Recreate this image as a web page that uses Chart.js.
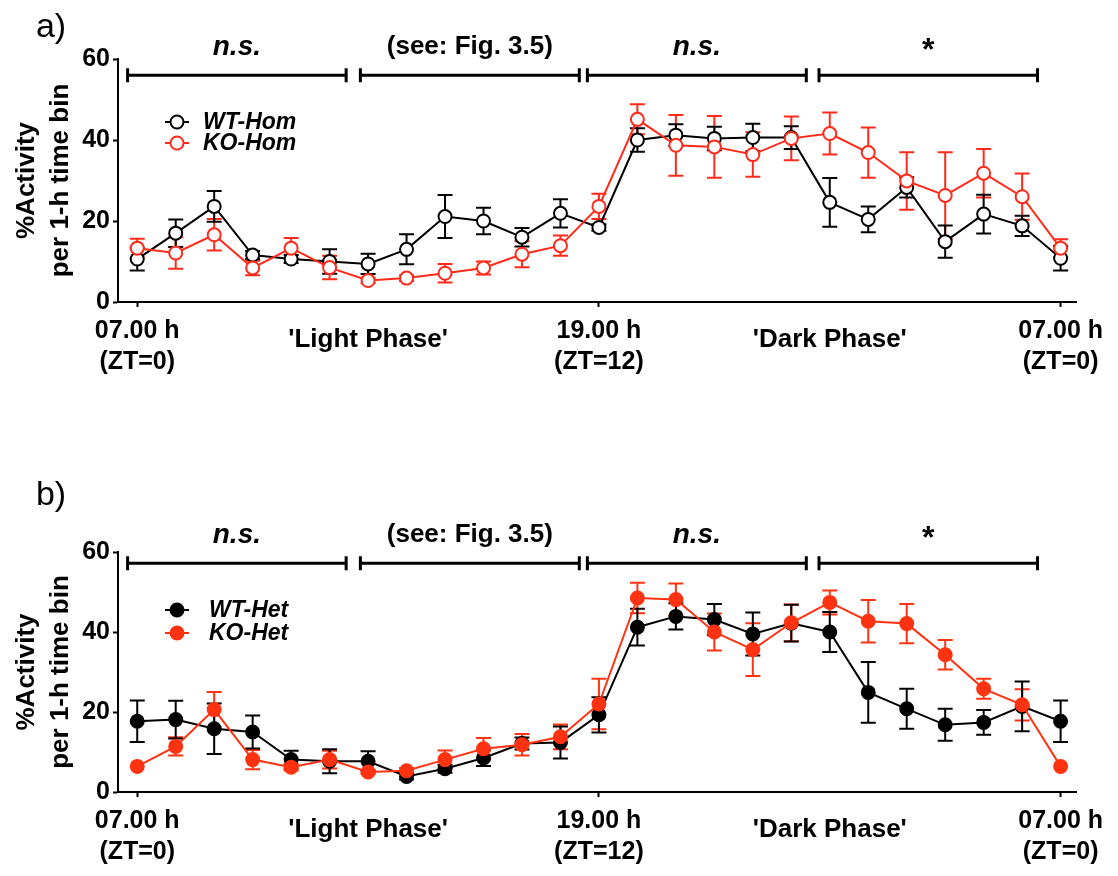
<!DOCTYPE html>
<html>
<head>
<meta charset="utf-8">
<script src="https://cdn.jsdelivr.net/npm/chart.js@4.4.1/dist/chart.umd.min.js"></script>
<style>
  body { margin: 0; background: #fff; }
  .panel { position: absolute; left: 0; width: 1118px; }
</style>
</head>
<body>
<div class="panel" style="top:0;height:420px"><canvas id="chartA" width="1118" height="420"></canvas></div>
<div class="panel" style="top:420px;height:456px"><canvas id="chartB" width="1118" height="456"></canvas></div>
<script>
// hours after lights on (ZT)
const hours = [0, 1, 2, 3, 4, 5, 6, 7, 8, 9, 10, 11, 12, 13, 14, 15, 16, 17, 18, 19, 20, 21, 22, 23, 24];

// panel a
const wtHom    = [10.6, 17.0, 23.6, 11.6, 10.6, 10.0, 9.4, 13.0, 21.1, 20.0, 16.0, 21.9, 18.4, 40.0, 41.2, 40.4, 40.6, 40.6, 24.6, 20.4, 28.3, 14.9, 21.7, 18.8, 10.8];
const wtHomErr = [2.8, 3.4, 3.8, 1.0, 1.0, 3.0, 2.5, 3.7, 5.3, 3.3, 2.3, 3.5, 0.8, 2.9, 2.7, 2.9, 3.4, 2.8, 6.0, 3.2, 2.5, 4.0, 4.8, 2.5, 3.0];
const koHom    = [13.3, 12.1, 16.6, 8.4, 13.3, 8.5, 5.3, 5.9, 7.1, 8.4, 11.8, 13.9, 23.6, 45.1, 38.7, 38.3, 36.4, 40.4, 41.6, 36.9, 29.9, 26.3, 31.8, 26.0, 13.3];
const koHomErr = [2.3, 3.9, 3.9, 1.8, 2.5, 2.9, 0.7, 0.7, 2.3, 1.6, 3.2, 2.5, 3.1, 3.7, 7.5, 7.6, 5.5, 5.4, 5.2, 6.2, 7.1, 10.7, 6.0, 5.7, 2.2];

// panel b
const wtHet    = [17.7, 18.1, 15.8, 15.0, 8.1, 7.7, 7.7, 3.9, 5.8, 8.5, 12.1, 12.4, 19.3, 41.2, 43.9, 43.1, 39.5, 42.2, 40.0, 24.9, 20.8, 16.8, 17.4, 21.4, 17.7];
const wtHetErr = [5.2, 4.7, 6.3, 4.1, 2.2, 3.0, 2.5, 0.8, 1.0, 2.0, 1.5, 4.0, 4.4, 4.6, 3.3, 3.9, 5.4, 4.6, 5.0, 7.6, 5.0, 4.0, 3.1, 6.2, 5.2];
const koHet    = [6.4, 11.4, 20.6, 8.1, 6.2, 8.1, 5.0, 5.3, 8.1, 10.8, 11.8, 13.8, 22.0, 48.5, 48.1, 40.0, 35.6, 42.3, 47.4, 42.7, 42.1, 34.3, 25.8, 21.8, 6.4];
const koHetErr = [0, 2.3, 4.4, 2.4, 0.8, 2.2, 0.5, 0.7, 2.3, 2.7, 2.7, 3.1, 6.3, 3.8, 4.0, 4.6, 6.6, 4.6, 3.0, 5.3, 4.9, 3.7, 2.5, 3.9, 0];

// x axis labels
const tickHours = [0, 12, 24];
const tickTimes = ['07.00 h', '19.00 h', '07.00 h'];
const tickZT = ['(ZT=0)', '(ZT=12)', '(ZT=0)'];
const phaseHours = [6, 18];
const phaseLabels = ["'Light Phase'", "'Dark Phase'"];

// significance brackets (hours)
const bracketStart = [-0.25, 5.8, 11.7, 17.72];
const bracketEnd = [5.43, 11.49, 17.39, 23.4];
const bracketLabels = ['n.s.', '(see: Fig. 3.5)', 'n.s.', '*'];

const FONT = "'Liberation Sans', Arial, Helvetica, sans-serif";
const bracketFonts = ['italic bold 28px ' + FONT, 'bold 26px ' + FONT, 'italic bold 28px ' + FONT, 'bold 32px ' + FONT];

function toPoints(ys) {
  return hours.map((h, i) => ({ x: h, y: ys[i] }));
}

// vertical SEM bars under the markers
const errorBars = {
  id: 'errorBars',
  beforeDatasetsDraw(chart) {
    const { ctx, scales: { x, y } } = chart;
    chart.data.datasets.forEach(ds => {
      ctx.save();
      ctx.strokeStyle = ds.borderColor;
      ctx.lineWidth = 2;
      ds.data.forEach((p, j) => {
        const e = ds.errors[j];
        if (!e) return;
        const px = x.getPixelForValue(p.x);
        const top = y.getPixelForValue(p.y + e);
        const bot = y.getPixelForValue(p.y - e);
        ctx.beginPath();
        ctx.moveTo(px, top); ctx.lineTo(px, bot);
        ctx.moveTo(px - 7.5, top); ctx.lineTo(px + 7.5, top);
        ctx.moveTo(px - 7.5, bot); ctx.lineTo(px + 7.5, bot);
        ctx.stroke();
      });
      ctx.restore();
    });
  }
};

// brackets, phase names, legend and panel letter
const annotations = {
  id: 'annotations',
  afterDraw(chart, args, opts) {
    const { ctx, chartArea, scales: { x, y } } = chart;
    ctx.save();
    ctx.fillStyle = '#000';
    ctx.strokeStyle = '#000';

    // brackets
    const yb = y.getPixelForValue(opts.bracketLevel);
    ctx.lineWidth = 3;
    bracketStart.forEach((s, i) => {
      const x1 = x.getPixelForValue(s);
      const x2 = x.getPixelForValue(bracketEnd[i]);
      ctx.beginPath();
      ctx.moveTo(x1, yb); ctx.lineTo(x2, yb);
      ctx.moveTo(x1, yb - 7); ctx.lineTo(x1, yb + 7);
      ctx.moveTo(x2, yb - 7); ctx.lineTo(x2, yb + 7);
      ctx.stroke();
      ctx.font = bracketFonts[i];
      ctx.textAlign = 'center';
      ctx.textBaseline = 'middle';
      ctx.fillText(bracketLabels[i], (x1 + x2) / 2, yb - (bracketLabels[i] === '*' ? 24 : 28));
    });

    // phase names
    ctx.font = 'bold 26px ' + FONT;
    phaseHours.forEach((h, i) => {
      ctx.fillText(phaseLabels[i], x.getPixelForValue(h), chartArea.bottom + 38);
    });

    // legend
    const lx = chartArea.left + 59;
    chart.data.datasets.slice().reverse().forEach((ds, i) => {
      const ly = chartArea.top + opts.legendTop + i * opts.legendGap;
      ctx.strokeStyle = ds.borderColor;
      ctx.lineWidth = 2;
      ctx.beginPath();
      ctx.moveTo(lx - 12, ly); ctx.lineTo(lx + 12, ly);
      ctx.stroke();
      ctx.beginPath();
      ctx.arc(lx, ly, ds.pointRadius, 0, Math.PI * 2);
      ctx.fillStyle = ds.pointBackgroundColor;
      ctx.fill();
      ctx.stroke();
      ctx.fillStyle = '#000';
      ctx.font = 'italic bold 23px ' + FONT;
      ctx.textAlign = 'left';
      ctx.fillText(ds.label, lx + opts.legendText, ly + 1);
    });

    // panel letter
    ctx.font = '34px ' + FONT;
    ctx.textAlign = 'center';
    ctx.fillText(opts.letter, 51, opts.letterY);
    ctx.restore();
  }
};

function series(label, values, errors, color, filled) {
  return {
    label: label,
    data: toPoints(values),
    errors: errors,
    borderColor: color,
    borderWidth: 2,
    pointRadius: 6.5,
    pointBorderWidth: 2,
    pointBackgroundColor: filled ? color : '#fff',
    pointBorderColor: color,
    tension: 0,
    fill: false
  };
}

function makePanel(id, datasets, o) {
  return new Chart(document.getElementById(id), {
    type: 'line',
    data: { datasets: datasets },
    plugins: [errorBars, annotations],
    options: {
      responsive: false,
      animation: false,
      layout: { padding: { top: o.top, right: 42, bottom: 0, left: 0 } },
      scales: {
        x: {
          type: 'linear',
          min: -0.5,
          max: 24.4,
          afterBuildTicks: s => { s.ticks = tickHours.map(v => ({ value: v })); },
          afterFit: s => { s.height = o.xHeight; },
          border: { color: '#000', width: 2 },
          grid: { drawOnChartArea: false, tickLength: 5, tickColor: '#000', tickWidth: 2 },
          ticks: {
            color: '#000',
            font: { family: FONT, size: 25, weight: 'bold', lineHeight: 1.25 },
            padding: 8,
            maxRotation: 0,
            autoSkip: false,
            callback: v => {
              const i = tickHours.indexOf(v);
              return i < 0 ? '' : [tickTimes[i], tickZT[i]];
            }
          }
        },
        y: {
          min: 0,
          max: 60,
          afterFit: s => { s.width = 118; },
          border: { color: '#000', width: 2 },
          grid: { drawOnChartArea: false, tickLength: 5, tickColor: '#000', tickWidth: 2 },
          ticks: { stepSize: 20, color: '#000', font: { family: FONT, size: 25, weight: 'bold' }, padding: 3 },
          title: {
            display: true,
            text: ['%Activity', 'per 1-h time bin'],
            color: '#000',
            font: { family: FONT, size: 26, weight: 'bold', lineHeight: 1.3 },
            padding: { top: 10, bottom: 0 }
          }
        }
      },
      plugins: {
        legend: { display: false },
        tooltip: { enabled: false },
        annotations: o.annot
      }
    }
  });
}

makePanel('chartA', [
  series('KO-Hom', koHom, koHomErr, '#ff2a1a', false),
  series('WT-Hom', wtHom, wtHomErr, '#000000', false)
], {
  top: 59, xHeight: 118,
  annot: { bracketLevel: 56, legendTop: 63, legendGap: 21, legendText: 26, letter: 'a)', letterY: 28 }
});

makePanel('chartB', [
  series('KO-Het', koHet, koHetErr, '#ff3311', true),
  series('WT-Het', wtHet, wtHetErr, '#000000', true)
], {
  top: 132, xHeight: 84,
  annot: { bracketLevel: 57.2, legendTop: 58, legendGap: 23, legendText: 32, letter: 'b)', letterY: 76 }
});
</script>
</body>
</html>
